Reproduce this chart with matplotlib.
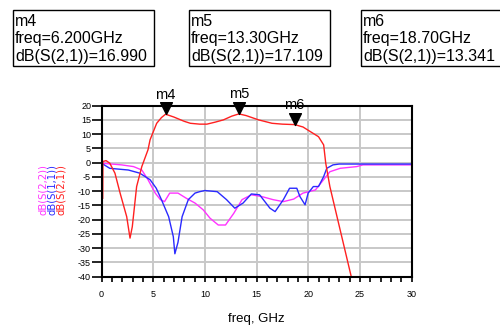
import matplotlib
matplotlib.use("Agg")
import matplotlib.pyplot as plt
from matplotlib.path import Path
from matplotlib.patches import Rectangle

plt.rcParams['axes.unicode_minus'] = False
plt.rcParams['font.family'] = ['Liberation Sans', 'DejaVu Sans']

# S21 (red)
freq_s21 = [0.12, 0.14, 0.44, 0.8, 1.3, 1.8, 2.44, 2.76, 2.98, 3.4, 3.9, 4.5, 4.7, 5.34,
            5.8, 6.2, 7.0, 8.0, 8.6, 9.5, 10.2, 11.0, 11.8, 12.6, 13.3, 14.0, 15.2,
            16.5, 17.5, 18.7, 19.5, 20.2, 21.0, 21.5, 21.7, 22.1, 24.2]
s21 = [-12.5, 0.4, 0.7, -0.2, -3.7, -10.7, -19, -26.5, -22.5, -8.4, -1.4, 4.5, 8, 13.8,
       15.8, 16.99, 16.0, 14.5, 13.8, 13.5, 13.5, 14.2, 15, 16.3, 17.1, 16.5, 15,
       13.8, 13.5, 13.34, 12.5, 10.9, 9.1, 6.2, -0.2, -8.4, -40.5]

# S11 (blue)
freq_s11 = [0, 0.8, 2.6, 3.7, 4.7, 5.3, 5.8, 6.5, 6.95, 7.1, 7.4, 7.8, 8.4, 9.05, 9.5,
            10.0, 11.2, 12.1, 12.9, 13.7, 14.5, 15.3, 16.3, 16.8, 17.6, 18.2, 18.9,
            19.2, 19.7, 20.0, 20.5, 21.0, 21.5, 21.8, 22.4, 23.0, 30]
s11 = [-0.2, -2, -2.6, -3.7, -6, -9, -13, -19, -26, -32, -28, -19, -13, -10.7, -10.2,
       -9.8, -10.2, -13, -16, -14.2, -11, -11.3, -16, -17.2, -13, -9, -9,
       -11.9, -14.8, -10.7, -8.4, -8.4, -4.9, -2, -0.8, -0.5, -0.5]

# S22 (magenta)
freq_s22 = [0, 1.95, 3.1, 3.9, 4.5, 5.2, 5.7, 6.1, 6.6, 7.4, 8.2, 9.05, 9.85, 10.5,
            11.3, 12.0, 12.8, 13.6, 14.5, 15.5, 16.6, 17.6, 18.6, 19.5, 20.7, 21.6,
            22.1, 23.1, 24.7, 25.3, 30]
s22 = [-0.2, -0.8, -1.4, -2.6, -6, -10.7, -13, -13.7, -10.7, -10.7, -12.5, -14.2,
       -16.6, -19.5, -21.9, -21.9, -17.8, -13, -11.3, -11.9, -13, -13.7, -12.8, -10.7,
       -9.6, -5.5, -3.2, -2, -1.4, -0.8, -0.8]

# markers
marker_names = ["m4", "m5", "m6"]
marker_freq = [6.2, 13.3, 18.7]
marker_db = [16.990, 17.109, 13.341]
marker_freq_text = ["6.200GHz", "13.30GHz", "18.70GHz"]
marker_db_text = ["16.990", "17.109", "13.341"]

xticks = [0, 5, 10, 15, 20, 25, 30]
yticks = [20, 15, 10, 5, 0, -5, -10, -15, -20, -25, -30, -35, -40]

fig = plt.figure(figsize=(5, 3.25), dpi=100)
ax = fig.add_axes([0.203, 0.149, 0.620, 0.526])

ax.plot(freq_s22, s22, color='#ff33ff', lw=1.0)
ax.plot(freq_s11, s11, color='#2a2aff', lw=1.0)
ax.plot(freq_s21, s21, color='#ff2020', lw=1.0)

ax.set_xlim(0, 30)
ax.set_ylim(-40, 20)
ax.set_xticks(xticks)
ax.set_xticks(range(0, 31), minor=True)
ax.set_yticks(yticks)
ax.grid(True, which='major', color='#c8c8c8', lw=1.4)
ax.set_axisbelow(True)
for s in ax.spines.values():
    s.set_linewidth(1.5)
    s.set_color('black')
ax.tick_params(axis='y', length=7, width=1.2, pad=0.5, labelsize=6.5)
ax.tick_params(axis='x', which='both', length=3.5, width=1.2, pad=6, labelsize=6.5)
ax.set_xlabel("freq, GHz", fontsize=9.5, labelpad=10)

# stacked y labels
ylabels = [("dB(S(2,2))", '#ff33ff', 43), ("dB(S(1,1))", '#2a2aff', 52), ("dB(S(2,1))", '#ff2020', 61)]
for txt, col, xp in ylabels:
    fig.text(xp / 500, 1 - 190 / 325, txt, rotation=90, color=col, fontsize=7.2,
             family='DejaVu Sans', ha='center', va='center')

# marker triangles (tip at data point)
tri = Path([(-1, 2), (1, 2), (0, 0), (-1, 2)], [Path.MOVETO, Path.LINETO, Path.LINETO, Path.CLOSEPOLY])
ax.plot(marker_freq, marker_db, linestyle='none', marker=tri, markersize=17,
        color='black', clip_on=False, zorder=5)
for name, f, d in zip(marker_names, marker_freq, marker_db):
    ax.annotate(name, (f, d), xytext=(0, 9), textcoords='offset points',
                ha='center', va='bottom', fontsize=10.5, annotation_clip=False)

# marker readout boxes
box_x = [13, 189, 361]
for bx, name, ft, dt in zip(box_x, marker_names, marker_freq_text, marker_db_text):
    fig.patches.append(Rectangle((bx / 500, 1 - 66 / 325), 141 / 500, 56 / 325,
                                 transform=fig.transFigure, fill=False,
                                 edgecolor='black', lw=1.0))
    lines = [name, "freq=" + ft, "dB(S(2,1))=" + dt]
    for i, ln in enumerate(lines):
        fig.text((bx + 2) / 500, 1 - (21 + 17.5 * i) / 325, ln, fontsize=11.5,
                 ha='left', va='center')

fig.savefig("out.png", dpi=100)
